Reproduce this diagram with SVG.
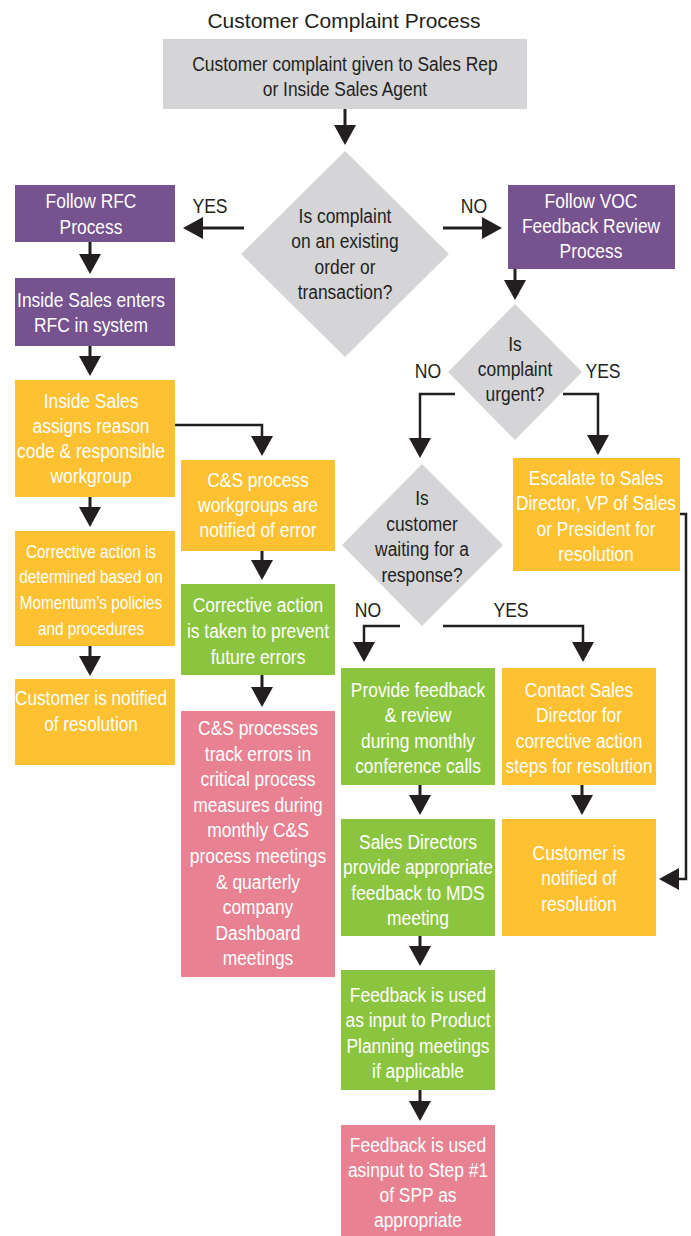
<svg xmlns="http://www.w3.org/2000/svg" width="691" height="1236" viewBox="0 0 691 1236">
<style>
.t{font-family:"Liberation Sans",Arial,sans-serif;font-size:20px;text-anchor:middle}
.w{fill:#ffffff}
.k{fill:#231f20}
.s{font-size:18px}
.title{font-family:"Liberation Sans",Arial,sans-serif;font-size:21px;text-anchor:middle;fill:#231f20}
.gray{fill:#d5d5d7}
.pur{fill:#76528f}
.org{fill:#fdc131}
.grn{fill:#8bc540}
.pnk{fill:#e88293}
.c{fill:none;stroke:#231f20;stroke-width:3;marker-end:url(#ah)}
.e{stroke-width:2.5}
</style>
<defs>
<marker id="ah" markerUnits="userSpaceOnUse" markerWidth="22" markerHeight="22" viewBox="0 0 20 22" refX="0" refY="11" orient="auto">
<path d="M0,0 L20,11 L0,22 z" fill="#231f20"/>
</marker>
</defs>
<rect width="691" height="1236" fill="#ffffff"/>
<text class="title" x="344" y="28">Customer Complaint Process</text>

<g id="connectors">
<path class="c" d="M345,109 V125"/>
<path class="c" d="M244,228 H203"/>
<path class="c" d="M443,228 H482"/>
<path class="c" d="M90,242 V254"/>
<path class="c" d="M90,346 V356"/>
<path class="c e" d="M175,425 H262 V436"/>
<path class="c" d="M90,497 V507"/>
<path class="c" d="M90,646 V656"/>
<path class="c" d="M262,551 V560"/>
<path class="c" d="M262,675 V687"/>
<path class="c" d="M515,269 V280"/>
<path class="c e" d="M455,394 H420 V438"/>
<path class="c e" d="M563,394 H598 V435"/>
<path class="c e" d="M400,626 H364 V642"/>
<path class="c e" d="M443,626 H583 V642"/>
<path class="c" d="M420,785 V795"/>
<path class="c" d="M582,785 V795"/>
<path class="c" d="M420,936 V946"/>
<path class="c" d="M420,1090 V1101"/>
<path class="c e" d="M680,514 H686 V879 H679"/>
</g>

<g id="labels">
<text class="t k" transform="translate(210,213) scale(0.88,1)">YES</text>
<text class="t k" transform="translate(474,213) scale(0.88,1)">NO</text>
<text class="t k" transform="translate(428,378) scale(0.88,1)">NO</text>
<text class="t k" transform="translate(603,378) scale(0.88,1)">YES</text>
<text class="t k" transform="translate(368,617) scale(0.88,1)">NO</text>
<text class="t k" transform="translate(511,617) scale(0.88,1)">YES</text>
</g>

<g id="start">
<rect class="gray" x="163" y="39" width="364" height="70"/>
<g transform="translate(345,0) scale(0.87,1)">
<text class="t k" x="0" y="71">Customer complaint given to Sales Rep</text>
<text class="t k" x="0" y="96">or Inside Sales Agent</text>
</g>
</g>

<g id="decision-existing">
<polygon class="gray" points="345,151 449,254 345,357 241,254"/>
<g transform="translate(345,0) scale(0.87,1)">
<text class="t k" x="0" y="223">Is complaint</text>
<text class="t k" x="0" y="248.5">on an existing</text>
<text class="t k" x="0" y="274">order or</text>
<text class="t k" x="0" y="299">transaction?</text>
</g>
</g>

<g id="follow-rfc">
<rect class="pur" x="15" y="185" width="160" height="57"/>
<g transform="translate(91,0) scale(0.87,1)">
<text class="t w" x="0" y="208">Follow RFC</text>
<text class="t w" x="0" y="234">Process</text>
</g>
</g>

<g id="enters-rfc">
<rect class="pur" x="15" y="278" width="160" height="68"/>
<g transform="translate(91,0) scale(0.87,1)">
<text class="t w" x="0" y="307">Inside Sales enters</text>
<text class="t w" x="0" y="332">RFC in system</text>
</g>
</g>

<g id="assigns">
<rect class="org" x="15" y="380" width="160" height="117"/>
<g transform="translate(91,0) scale(0.87,1)">
<text class="t w" x="0" y="408">Inside Sales</text>
<text class="t w" x="0" y="433.5">assigns reason</text>
<text class="t w" x="0" y="458.5">code &amp; responsible</text>
<text class="t w" x="0" y="483.5">workgroup</text>
</g>
</g>

<g id="corrective-determined">
<rect class="org" x="15" y="531" width="160" height="115"/>
<g transform="translate(91,0) scale(0.85,1)">
<text class="t w s" x="0" y="558">Corrective action is</text>
<text class="t w s" x="0" y="583.5">determined based on</text>
<text class="t w s" x="0" y="609">Momentum’s policies</text>
<text class="t w s" x="0" y="635">and procedures</text>
</g>
</g>

<g id="customer-notified-left">
<rect class="org" x="15" y="679" width="160" height="86"/>
<g transform="translate(91,0) scale(0.86,1)">
<text class="t w" x="0" y="705">Customer is notified</text>
<text class="t w" x="0" y="731">of resolution</text>
</g>
</g>

<g id="cs-notified">
<rect class="org" x="181" y="460" width="154" height="91"/>
<g transform="translate(258,0) scale(0.87,1)">
<text class="t w" x="0" y="487">C&amp;S process</text>
<text class="t w" x="0" y="512">workgroups are</text>
<text class="t w" x="0" y="537">notified of error</text>
</g>
</g>

<g id="corrective-taken">
<rect class="grn" x="181" y="584" width="154" height="91"/>
<g transform="translate(258,0) scale(0.87,1)">
<text class="t w" x="0" y="612">Corrective action</text>
<text class="t w" x="0" y="638">is taken to prevent</text>
<text class="t w" x="0" y="664">future errors</text>
</g>
</g>

<g id="cs-track">
<rect class="pnk" x="181" y="711" width="154" height="266"/>
<g transform="translate(258,0) scale(0.87,1)">
<text class="t w" x="0" y="735">C&amp;S processes</text>
<text class="t w" x="0" y="760.6">track errors in</text>
<text class="t w" x="0" y="786.2">critical process</text>
<text class="t w" x="0" y="811.8">measures during</text>
<text class="t w" x="0" y="837.4">monthly C&amp;S</text>
<text class="t w" x="0" y="863">process meetings</text>
<text class="t w" x="0" y="888.6">&amp; quarterly</text>
<text class="t w" x="0" y="914.2">company</text>
<text class="t w" x="0" y="939.8">Dashboard</text>
<text class="t w" x="0" y="965.4">meetings</text>
</g>
</g>

<g id="follow-voc">
<rect class="pur" x="508" y="185" width="167" height="84"/>
<g transform="translate(591,0) scale(0.87,1)">
<text class="t w" x="0" y="208">Follow VOC</text>
<text class="t w" x="0" y="233">Feedback Review</text>
<text class="t w" x="0" y="258">Process</text>
</g>
</g>

<g id="decision-urgent">
<polygon class="gray" points="515,304 582,372 515,440 448,372"/>
<g transform="translate(515,0) scale(0.87,1)">
<text class="t k" x="0" y="351">Is</text>
<text class="t k" x="0" y="376.5">complaint</text>
<text class="t k" x="0" y="401">urgent?</text>
</g>
</g>

<g id="escalate">
<rect class="org" x="513" y="458" width="167" height="113"/>
<g transform="translate(596,0) scale(0.87,1)">
<text class="t w" x="0" y="485">Escalate to Sales</text>
<text class="t w" x="0" y="510.5">Director, VP of Sales</text>
<text class="t w" x="0" y="536">or President for</text>
<text class="t w" x="0" y="561.5">resolution</text>
</g>
</g>

<g id="decision-waiting">
<polygon class="gray" points="422,464 503,545 422,626 342,545"/>
<g transform="translate(422,0) scale(0.87,1)">
<text class="t k" x="0" y="505.5">Is</text>
<text class="t k" x="0" y="531">customer</text>
<text class="t k" x="0" y="556.5">waiting for a</text>
<text class="t k" x="0" y="582">response?</text>
</g>
</g>

<g id="provide-feedback">
<rect class="grn" x="341" y="668" width="154" height="117"/>
<g transform="translate(418,0) scale(0.87,1)">
<text class="t w" x="0" y="697">Provide feedback</text>
<text class="t w" x="0" y="722.5">&amp; review</text>
<text class="t w" x="0" y="748">during monthly</text>
<text class="t w" x="0" y="773.5">conference calls</text>
</g>
</g>

<g id="contact-sales">
<rect class="org" x="502" y="668" width="154" height="117"/>
<g transform="translate(579,0) scale(0.87,1)">
<text class="t w" x="0" y="697">Contact Sales</text>
<text class="t w" x="0" y="722.5">Director for</text>
<text class="t w" x="0" y="748">corrective action</text>
<text class="t w" x="0" y="773.5">steps for resolution</text>
</g>
</g>

<g id="sales-directors">
<rect class="grn" x="341" y="819" width="154" height="117"/>
<g transform="translate(418,0) scale(0.87,1)">
<text class="t w" x="0" y="849">Sales Directors</text>
<text class="t w" x="0" y="874.5">provide appropriate</text>
<text class="t w" x="0" y="900">feedback to MDS</text>
<text class="t w" x="0" y="925.5">meeting</text>
</g>
</g>

<g id="customer-notified-right">
<rect class="org" x="502" y="819" width="154" height="117"/>
<g transform="translate(579,0) scale(0.87,1)">
<text class="t w" x="0" y="860">Customer is</text>
<text class="t w" x="0" y="885.5">notified of</text>
<text class="t w" x="0" y="911">resolution</text>
</g>
</g>

<g id="feedback-product">
<rect class="grn" x="341" y="970" width="154" height="120"/>
<g transform="translate(418,0) scale(0.87,1)">
<text class="t w" x="0" y="1002">Feedback is used</text>
<text class="t w" x="0" y="1027.5">as input to Product</text>
<text class="t w" x="0" y="1053">Planning meetings</text>
<text class="t w" x="0" y="1078.5">if applicable</text>
</g>
</g>

<g id="feedback-spp">
<rect class="pnk" x="341" y="1125" width="154" height="111"/>
<g transform="translate(418,0) scale(0.87,1)">
<text class="t w" x="0" y="1152">Feedback is used</text>
<text class="t w" x="0" y="1177">asinput to Step #1</text>
<text class="t w" x="0" y="1202">of SPP as</text>
<text class="t w" x="0" y="1227">appropriate</text>
</g>
</g>
</svg>
